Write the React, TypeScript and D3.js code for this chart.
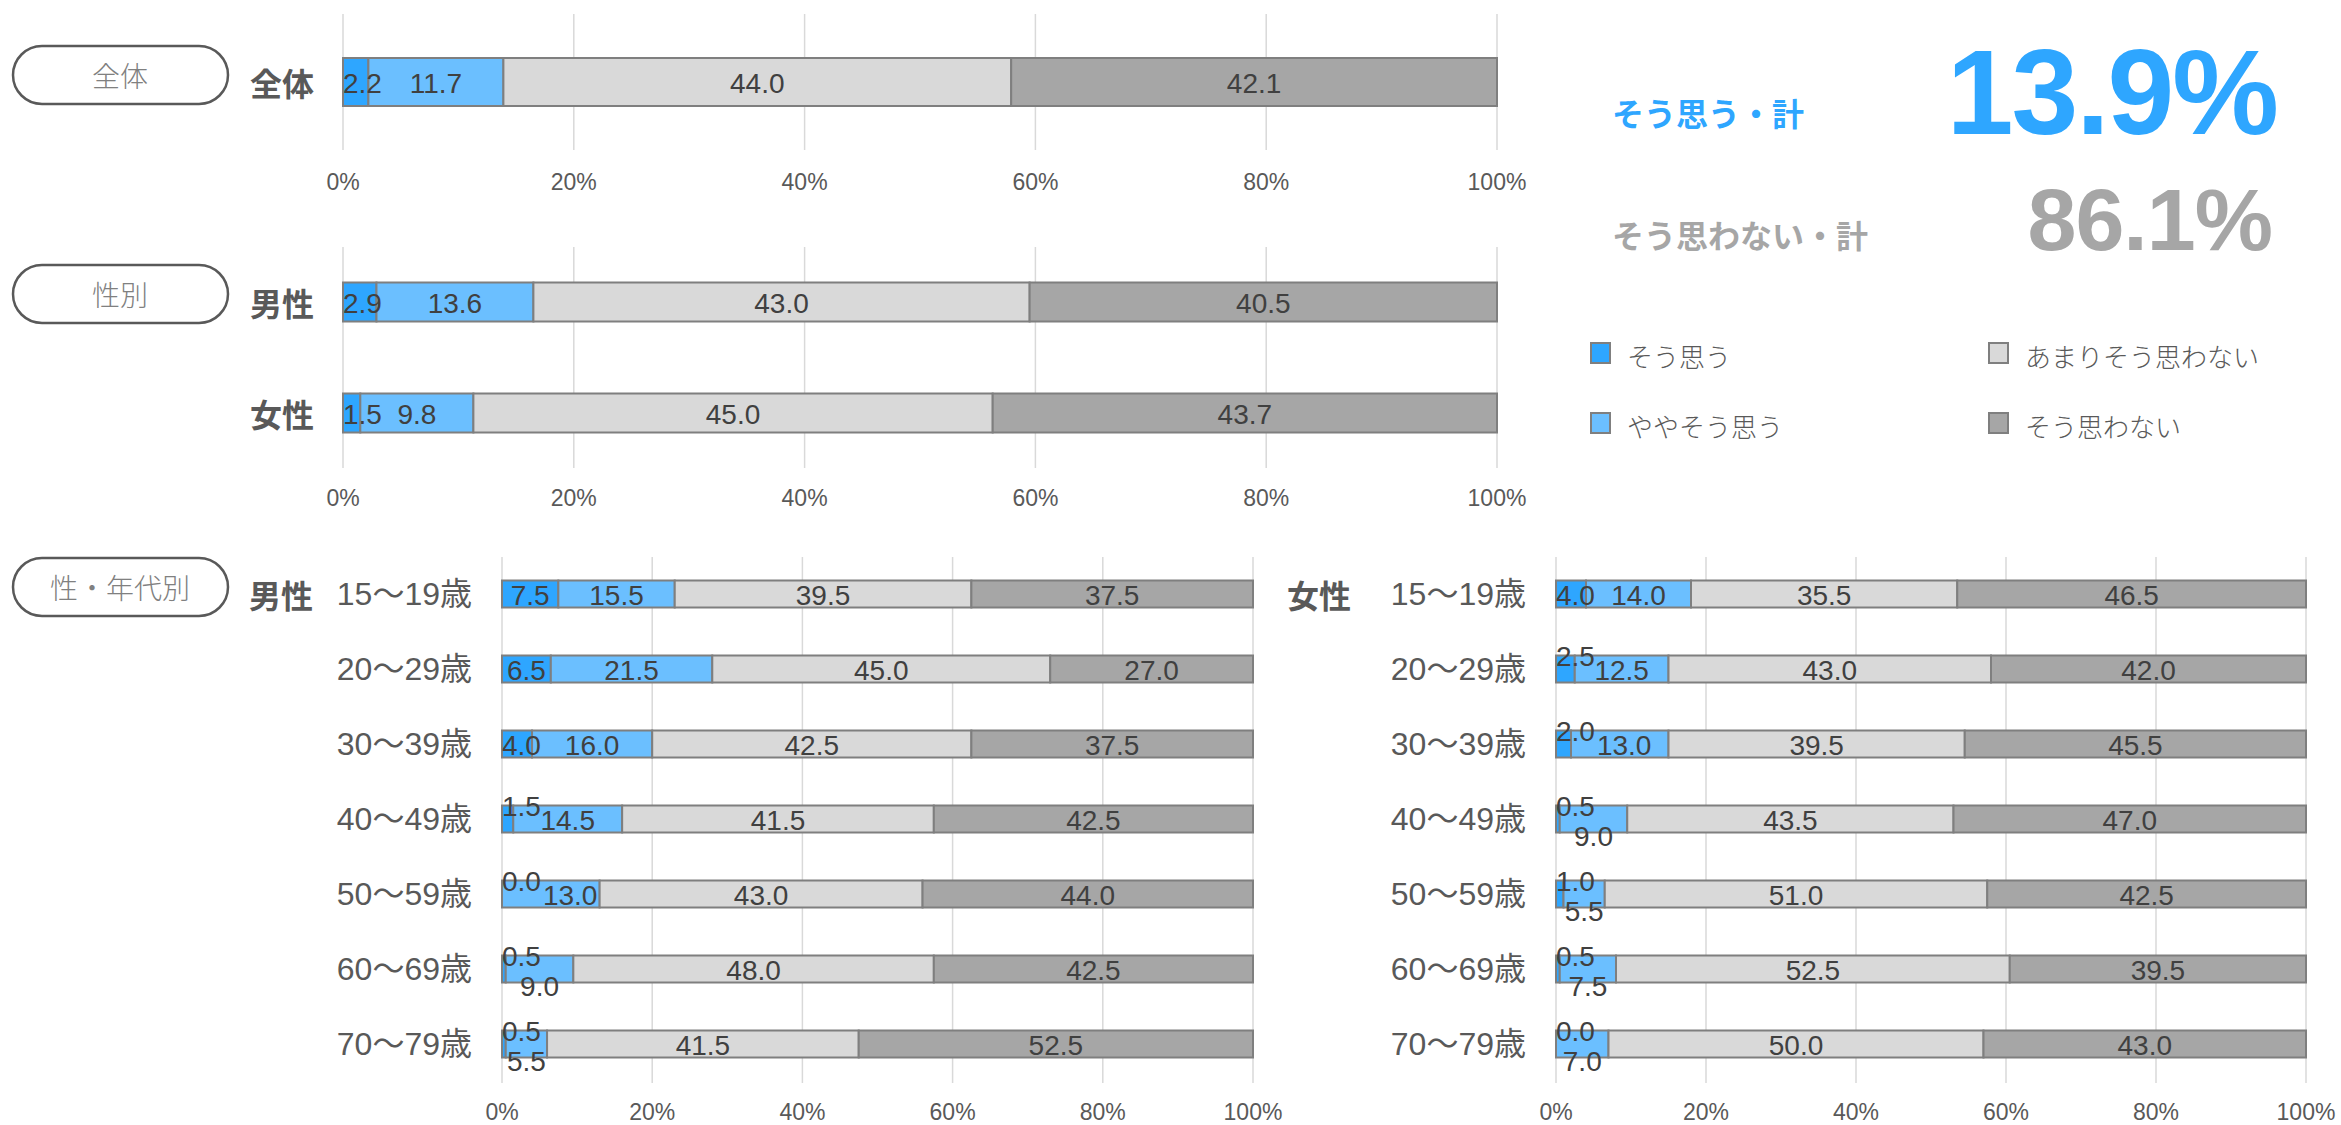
import * as d3 from 'd3';

const categories = ['そう思う', 'ややそう思う', 'あまりそう思わない', 'そう思わない'];
const colors = ['#2ea6ff', '#6bbfff', '#d9d9d9', '#a6a6a6'];

const totalRows = ['全体'];
const totalValues = [[2.2, 11.7, 44.0, 42.1]];

const genderRows = ['男性', '女性'];
const genderValues = [
  [2.9, 13.6, 43.0, 40.5],
  [1.5, 9.8, 45.0, 43.7],
];

const ageRows = ['15～19歳', '20～29歳', '30～39歳', '40～49歳', '50～59歳', '60～69歳', '70～79歳'];
const maleAgeValues = [
  [7.5, 15.5, 39.5, 37.5],
  [6.5, 21.5, 45.0, 27.0],
  [4.0, 16.0, 42.5, 37.5],
  [1.5, 14.5, 41.5, 42.5],
  [0.0, 13.0, 43.0, 44.0],
  [0.5, 9.0, 48.0, 42.5],
  [0.5, 5.5, 41.5, 52.5],
];
const femaleAgeValues = [
  [4.0, 14.0, 35.5, 46.5],
  [2.5, 12.5, 43.0, 42.0],
  [2.0, 13.0, 39.5, 45.5],
  [0.5, 9.0, 43.5, 47.0],
  [1.0, 5.5, 51.0, 42.5],
  [0.5, 7.5, 52.5, 39.5],
  [0.0, 7.0, 50.0, 43.0],
];

const tickValues = [0, 20, 40, 60, 80, 100];
const sectionTitles = ['全体', '性別', '性・年代別'];

const FONT = "'Liberation Sans', Arial, 'Noto Sans CJK JP', sans-serif";
const JP = "'Noto Sans CJK JP', sans-serif";
const TEXT = '#595959';
const LABEL = '#404040';

// rough Arial-metric width for numeric labels
const textW = (s: string, fs: number) =>
  s.split('').reduce((w, c) => w + (c === '.' ? 0.278 : 0.556), 0) * fs;

interface PanelProps {
  rows: string[];
  values: number[][];
  x0: number;
  x1: number;
  yFirst: number;
  yLast: number;
  barH: number;
  gridTop: number;
  gridBottom: number;
  tickY: number;
  fs: number;
  liftSmall?: boolean;
  rowLabelX: number;
  rowLabelBold?: boolean;
  groupLabel?: string;
  groupLabelX?: number;
}

const Panel = (p: PanelProps) => {
  const x = d3.scaleLinear().domain([0, 100]).range([p.x0, p.x1]);
  const y = d3.scalePoint<string>().domain(p.rows).range([p.yFirst, p.yLast]);

  return (
    <g>
      {tickValues.map(t => (
        <line key={'g' + t} x1={x(t)} x2={x(t)} y1={p.gridTop} y2={p.gridBottom}
          stroke="#d9d9d9" strokeWidth={1.5} />
      ))}
      {tickValues.map(t => (
        <text key={'t' + t} x={x(t)} y={p.tickY} textAnchor="middle" dominantBaseline="central"
          fontFamily={FONT} fontSize={23} fill={TEXT}>{t}%</text>
      ))}
      {p.rows.map((r, ri) => {
        const cy = y(r)!;
        const vals = p.values[ri];
        const starts = vals.map((_, i) => d3.sum(vals.slice(0, i)));
        let liftedRight = -Infinity;
        // small first segments: label goes up over the bar edge, the next one steps aside
        const labels = vals.map((v, i) => {
          const a = x(starts[i]);
          const b = x(starts[i] + v);
          const s = v.toFixed(1);
          const w = textW(s, p.fs);
          let cx = (a + b) / 2;
          let dy = 0;
          if (cx - w / 2 < p.x0) cx = p.x0 + w / 2;
          if (p.liftSmall && i === 0 && b - a < 22) {
            dy = -14;
            liftedRight = cx + w / 2;
          }
          if (p.liftSmall && i === 1 && cx - w / 2 < liftedRight - 2) {
            const shifted = liftedRight + 2 + w / 2;
            if (shifted + w / 2 <= b) cx = shifted;
            else dy = 16;
          }
          return { s, cx, dy };
        });
        return (
          <g key={r}>
            <text x={p.rowLabelX} y={cy} textAnchor="end" dominantBaseline="central"
              fontFamily={p.rowLabelBold ? JP : FONT} fontWeight={p.rowLabelBold ? 700 : 400}
              fontSize={32} fill={TEXT}>{r}</text>
            {vals.map((v, i) => (
              <rect key={i} x={x(starts[i])} y={cy - p.barH / 2} width={x(starts[i] + v) - x(starts[i])}
                height={p.barH} fill={colors[i]} stroke="#7f7f7f" strokeWidth={2} />
            ))}
            {labels.map((l, i) => (
              <text key={'l' + i} x={l.cx} y={cy + l.dy + 1} textAnchor="middle" dominantBaseline="central"
                fontFamily={FONT} fontSize={p.fs} fill={LABEL}>{l.s}</text>
            ))}
          </g>
        );
      })}
      {p.groupLabel && (
        <text x={p.groupLabelX} y={p.yFirst} textAnchor="end" dominantBaseline="central"
          fontFamily={JP} fontWeight={700} fontSize={32} fill={TEXT}>{p.groupLabel}</text>
      )}
    </g>
  );
};

const Pill = ({ label, cy }: { label: string; cy: number }) => (
  <g>
    <rect x={13} y={cy - 29} width={215} height={58} rx={29} fill="#fff" stroke="#595959" strokeWidth={2.5} />
    <text x={120} y={cy} textAnchor="middle" dominantBaseline="central" fontFamily={JP}
      fontWeight={300} fontSize={28} fill="#808080">{label}</text>
  </g>
);

export default function App() {
  const agree = d3.sum(totalValues[0].slice(0, 2));
  const disagree = d3.sum(totalValues[0].slice(2));
  const legendX = d3.scalePoint<number>().domain([0, 1]).range([1591, 1989]);
  const legendY = d3.scalePoint<number>().domain([0, 1]).range([353, 423]);

  return (
    <svg width={2341} height={1125} style={{ position: 'absolute', left: 0, top: 0, background: '#fff' }}>
      <Pill label={sectionTitles[0]} cy={75} />
      <Pill label={sectionTitles[1]} cy={294} />
      <Pill label={sectionTitles[2]} cy={587} />

      <Panel rows={totalRows} values={totalValues} x0={343} x1={1497} yFirst={82} yLast={82}
        barH={48} gridTop={14} gridBottom={150} tickY={182} fs={28} rowLabelX={314} rowLabelBold />
      <Panel rows={genderRows} values={genderValues} x0={343} x1={1497} yFirst={302} yLast={413}
        barH={39} gridTop={247} gridBottom={468} tickY={498} fs={28} rowLabelX={314} rowLabelBold />
      <Panel rows={ageRows} values={maleAgeValues} x0={502} x1={1253} yFirst={594} yLast={1044}
        barH={27} gridTop={557} gridBottom={1083} tickY={1112} fs={28} liftSmall
        rowLabelX={472} groupLabel="男性" groupLabelX={313} />
      <Panel rows={ageRows} values={femaleAgeValues} x0={1556} x1={2306} yFirst={594} yLast={1044}
        barH={27} gridTop={557} gridBottom={1083} tickY={1112} fs={28} liftSmall
        rowLabelX={1526} groupLabel="女性" groupLabelX={1351} />

      <text x={1612} y={112} dominantBaseline="central" fontFamily={JP} fontWeight={700}
        fontSize={32} fill={colors[0]}>そう思う・計</text>
      <text x={2277} y={134} textAnchor="end" fontFamily={FONT} fontWeight={700}
        fontSize={120} fill={colors[0]} letterSpacing={-2}>{agree.toFixed(1)}%</text>
      <text x={1612} y={234} dominantBaseline="central" fontFamily={JP} fontWeight={700}
        fontSize={32} fill={colors[3]}>そう思わない・計</text>
      <text x={2272} y={250} textAnchor="end" fontFamily={FONT} fontWeight={700}
        fontSize={88} fill={colors[3]} letterSpacing={-1}>{disagree.toFixed(1)}%</text>

      {categories.map((c, i) => {
        const col = Math.floor(i / 2);
        const row = i % 2;
        const lx = legendX(col)!;
        const ly = legendY(row)!;
        return (
          <g key={c}>
            <rect x={lx} y={ly - 10} width={19} height={20} fill={colors[i]} stroke="#7f7f7f" strokeWidth={2} />
            <text x={lx + 36} y={ly + 2} dominantBaseline="central" fontFamily={JP} fontWeight={300}
              fontSize={26} fill={TEXT}>{c}</text>
          </g>
        );
      })}
    </svg>
  );
}
